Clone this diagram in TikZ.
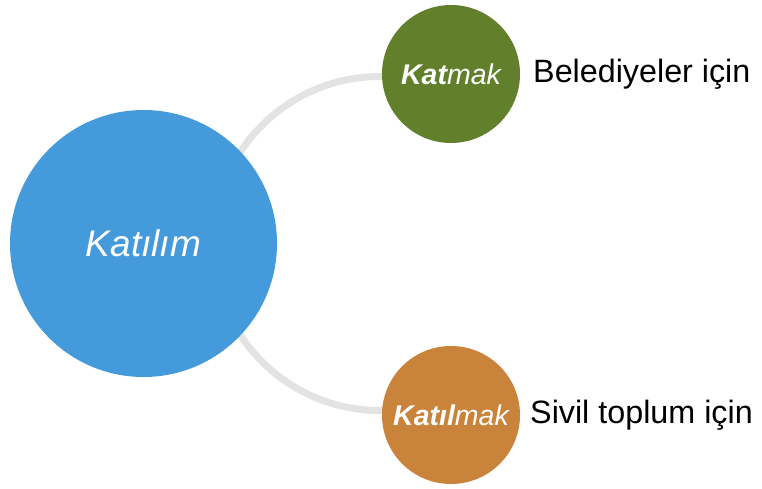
\documentclass[tikz,border=0pt]{standalone}
\usepackage{fontspec}
\setmainfont{Liberation Sans}
\usetikzlibrary{calc,backgrounds}
\definecolor{cblue}{RGB}{69,154,220}
\definecolor{cgreen}{RGB}{98,128,44}
\definecolor{corange}{RGB}{201,131,58}
\definecolor{carc}{RGB}{227,227,227}
\tikzset{
  bub/.style={circle, inner sep=0pt, text=white, font=\itshape},
  conn/.style={draw=carc, line width=7pt},
  side/.style={anchor=base west, inner sep=0pt, text=black, font=\fontsize{32.3}{38}\selectfont}
}
\begin{document}
\begin{tikzpicture}[x=1pt,y=1pt]
\useasboundingbox (0,0) rectangle (762,488);
\node[bub, fill=cblue, minimum size=267pt, font=\itshape\fontsize{37}{44}\selectfont] (k) at (143.5,244.5) {Katılım};
\node[bub, fill=cgreen, minimum size=138pt, font=\itshape\fontsize{28.5}{33}\selectfont] (g) at (451,414) {\textbf{Kat}mak};
\node[bub, fill=corange, minimum size=138pt, font=\itshape\fontsize{28.5}{33}\selectfont] (o) at (451,73) {\textbf{Katıl}mak};
\begin{scope}[on background layer]
\draw[conn] ($(g.center)+(0,-3)$) -- (380,411.5) arc[start angle=90, end angle=270, radius=167] -- ($(o.center)+(0,4.5)$);
\end{scope}
\node[side] (bl) at (533,405) {Belediyeler için};
\node[side] (st) at (530,65) {Sivil toplum için};
\end{tikzpicture}
\end{document}
